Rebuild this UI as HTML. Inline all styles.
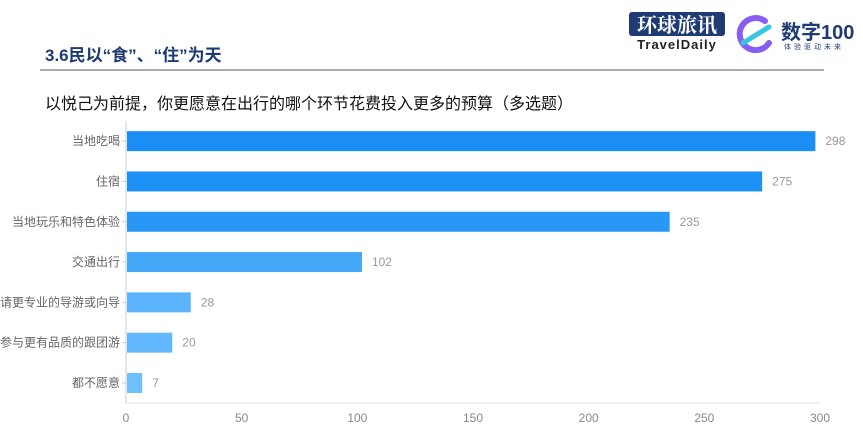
<!DOCTYPE html>
<html><head><meta charset="utf-8"><style>
body{margin:0;width:863px;height:439px;background:#fff;overflow:hidden;position:relative;font-family:"Liberation Sans","Noto Sans CJK SC",sans-serif}
.t{position:absolute;white-space:nowrap}
</style></head><body>
<div class="t" style="left:45px;top:41px;font-size:17px;font-weight:bold;color:#1f3b73">3.6民以“食”、“住”为天</div>
<div style="position:absolute;left:40px;top:69px;width:784px;height:2px;background:#aaa"></div>
<div style="position:absolute;left:629px;top:12px;width:96px">
 <div style="background:#1f3b73;color:#fff;font-family:'Noto Serif CJK SC',serif;font-weight:bold;font-size:20px;line-height:24px;text-align:center;border-radius:3px">环球旅讯</div>
 <div style="font-size:13px;font-weight:bold;color:#222;letter-spacing:1px;text-align:center;margin-top:1px">TravelDaily</div>
</div>
<svg style="position:absolute;left:735px;top:13px" width="42" height="42" viewBox="0 0 42 42">
<path d="M30 8 A16 16 0 1 0 34 30" fill="none" stroke="#8a5cf0" stroke-width="6" stroke-linecap="round"/>
<path d="M8 30 L34 14" stroke="#38c6e0" stroke-width="5" stroke-linecap="round"/>
</svg>
<div class="t" style="left:781px;top:16px;font-size:20px;font-weight:bold;color:#1f3b73">数字100</div>
<div class="t" style="left:784px;top:42px;font-size:7px;color:#1f3b73;letter-spacing:3px">体验驱动未来</div>
<div class="t" style="left:45px;top:90px;font-size:16px;color:#111">以悦己为前提，你更愿意在出行的哪个环节花费投入更多的预算（多选题）</div>
<svg id="c" style="position:absolute;left:0;top:0" width="863" height="439"></svg>
<script>
const categories=["当地吃喝","住宿","当地玩乐和特色体验","交通出行","请更专业的导游或向导","参与更有品质的跟团游","都不愿意"];
const values=[298,275,235,102,28,20,7];
const ticks=[0,50,100,150,200,250,300];
const colors=["#1a8ef5","#1d91f6","#2997f6","#44a7f8","#5ab3fb","#62b8fc","#6fbffd"];
const NS="http://www.w3.org/2000/svg";
const svg=document.getElementById("c");
const x0=126,x1=820,xmax=300,yTop=121,band=40.3,bh=20;
const xs=v=>x0+(v/xmax)*(x1-x0);
const yc=i=>yTop+band*(i+0.5);
function mk(tag,at,txt){const e=document.createElementNS(NS,tag);for(const k in at)e.setAttribute(k,at[k]);if(txt!=null)e.textContent=txt;svg.appendChild(e);return e;}
let ax=mk("line",{x1:x0,y1:yTop,x2:x0,y2:403,stroke:"#ccc"});


let bx=mk("line",{x1:x0,y1:403,x2:x1,y2:403,stroke:"#ddd"});


ticks.forEach(t=>{
 const e=mk("text",{x:xs(t),y:422,"font-size":12,fill:"#888","text-anchor":"middle"},t);
 
 
});
categories.forEach((c,i)=>{
 const y=yc(i);
 const l=mk("text",{x:x0-6,y:y+4,"font-size":12,fill:"#666","text-anchor":"end"},c);
 
 
 const tk=mk("line",{x1:x0-4,y1:y,x2:x0,y2:y,stroke:"#ccc"});
 
 
 const b=mk("rect",{x:x0+1,y:y-bh/2,width:Math.max(0,xs(values[i])-x0-1),height:bh,fill:colors[i]});
 
 
 const v=mk("text",{x:xs(values[i])+10,y:y+4,"font-size":12,fill:"#999"},values[i]);
 
 
});
</script>
</body></html>
